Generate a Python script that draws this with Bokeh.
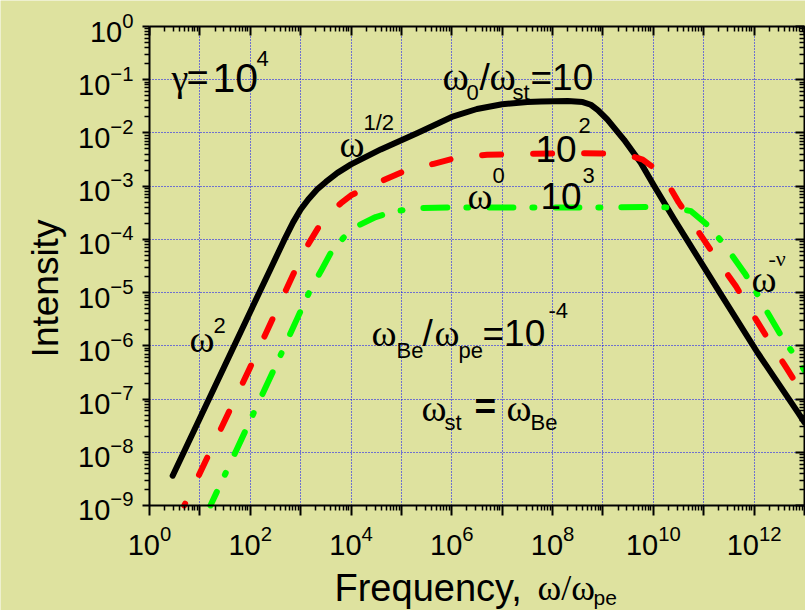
import numpy as np
from bokeh.plotting import figure
from bokeh.models import FixedTicker, LogAxis, Label, Grid
from bokeh.embed import file_html
from bokeh.resources import INLINE

# ---------------- data (log10 values) ----------------
black_log_freq = [0.46, 1.0, 1.5, 2.0, 2.4, 2.67, 2.85, 3.0, 3.15, 3.33, 3.5, 3.73, 4.0, 4.59, 5.32,
                  6.0, 6.5, 7.0, 7.5, 7.77, 8.3, 8.6, 8.76, 8.9, 9.09, 9.42, 9.75, 10.0, 10.42,
                  11.28, 12.07, 12.87, 13.0]
black_log_int = [-8.44, -7.36, -6.36, -5.36, -4.56, -4.02, -3.68, -3.44, -3.25, -3.06, -2.92, -2.75,
                 -2.59, -2.31, -2.0, -1.7, -1.55, -1.46, -1.42, -1.41, -1.40, -1.42, -1.47, -1.57,
                 -1.75, -2.13, -2.56, -2.97, -3.63, -4.94, -6.13, -7.25, -7.44]

red_log_freq = [0.69, 0.96, 2.0, 2.93, 3.17, 3.35, 3.56, 3.8, 4.02, 4.59, 5.05, 5.64, 6.12, 6.7,
                7.5, 8.5, 9.26, 9.55, 9.79, 10.0, 10.26, 10.5, 10.8, 11.31, 11.64, 11.97, 12.27,
                12.64, 13.0]
red_log_int = [-9.0, -8.47, -6.4, -4.5, -4.06, -3.78, -3.53, -3.32, -3.16, -2.91, -2.72, -2.58,
               -2.46, -2.41, -2.39, -2.38, -2.39, -2.43, -2.5, -2.65, -2.91, -3.3, -3.72, -4.44,
               -4.88, -5.4, -5.86, -6.41, -6.95]

green_log_freq = [1.21, 1.72, 2.61, 2.94, 3.2, 3.4, 3.6, 3.85, 4.12, 4.49, 4.89, 5.38, 6.0, 7.0,
                  8.0, 9.0, 10.16, 10.5, 10.75, 11.1, 11.41, 11.81, 12.0, 12.27, 12.6, 12.84, 13.0]
green_log_int = [-9.0, -7.97, -6.16, -5.47, -4.93, -4.6, -4.25, -3.97, -3.75, -3.58, -3.47, -3.41,
                 -3.40, -3.40, -3.40, -3.40, -3.39, -3.42, -3.47, -3.75, -4.1, -4.63, -4.92, -5.38,
                 -5.91, -6.22, -6.46]

x_major_exp = list(range(0, 14))
x_label_exp = [0, 2, 4, 6, 8, 10, 12]
y_major_exp = list(range(-9, 1))

BG = "#dee29f"
SANS = "Liberation Sans"
SERIF = "Liberation Serif"

W, H = 805, 610
# pixel placement of the plot box: 10^0 on x at px 149, 50.38 px per decade;
# 10^0 on y at px 26, 53.22 px per decade
X0, DX, Y0, DY = 149.0, 50.38, 26.0, 53.22

def px2x(px):
    return 10 ** ((px - X0) / DX)

def py2y(py):
    return 10 ** (-(py - Y0) / DY)

XMIN, XMAX = 10.0 ** x_major_exp[0], 10.0 ** x_major_exp[-1]
YMIN, YMAX = 10.0 ** y_major_exp[0], 10.0 ** y_major_exp[-1]

# ---------------- figure (frame = whole canvas, axes at fixed locations) ----------------
p = figure(width=W, height=H, x_axis_type="log", y_axis_type="log",
           x_range=(px2x(0), px2x(W)), y_range=(py2y(H), py2y(0)),
           output_backend="svg", toolbar_location=None,
           min_border_left=0, min_border_right=0, min_border_top=0, min_border_bottom=0)
p.background_fill_color = BG
p.border_fill_color = BG
p.outline_line_color = None

x_major = [10.0 ** k for k in x_major_exp]
x_minor = [m * 10.0 ** k for k in x_major_exp[:-1] for m in range(2, 10)]
y_major = [10.0 ** k for k in y_major_exp]
y_minor = [m * 10.0 ** k for k in y_major_exp[:-1] for m in range(2, 10)]
xt = FixedTicker(ticks=x_major, minor_ticks=x_minor)
yt = FixedTicker(ticks=y_major, minor_ticks=y_minor)

xax = p.xaxis[0]
yax = p.yaxis[0]
xax.ticker = xt
yax.ticker = yt
xax.fixed_location = YMIN
yax.fixed_location = XMIN
xax.bounds = (XMIN, XMAX)
yax.bounds = (YMIN, YMAX)
xax.major_label_overrides = {10.0 ** k: " " for k in x_major_exp if k not in x_label_exp}

for ax, out_len, stand in ((xax, 10, 10), (yax, 7, 9)):
    ax.axis_line_width = 2
    ax.major_tick_line_width = 2
    ax.minor_tick_line_width = 1.5
    ax.major_tick_in = 0
    ax.major_tick_out = out_len
    ax.minor_tick_in = 0
    ax.minor_tick_out = 5
    ax.major_label_text_font = SANS
    ax.major_label_text_font_size = "29px"
    ax.major_label_text_color = "black"
    ax.major_label_standoff = stand

top = LogAxis(ticker=xt, fixed_location=YMAX, bounds=(XMIN, XMAX))
right = LogAxis(ticker=yt, fixed_location=XMAX, bounds=(YMIN, YMAX))
for ax in (top, right):
    ax.axis_line_width = 2
    ax.major_tick_line_width = 2
    ax.minor_tick_line_width = 1.5
    ax.major_tick_in = 9
    ax.major_tick_out = 0
    ax.minor_tick_in = 5
    ax.minor_tick_out = 0
    ax.major_label_text_font_size = "1px"
    ax.major_label_text_alpha = 0
    ax.major_label_standoff = 0
p.add_layout(top, "above")
p.add_layout(right, "right")

GRID_COLOR, GRID_DASH = "#0000ff", "1 2"
if "cross_bounds" in Grid.properties():
    p.xgrid[0].cross_bounds = (YMIN, YMAX)
    p.ygrid[0].cross_bounds = (XMIN, XMAX)
    for g in (p.xgrid[0], p.ygrid[0]):
        g.grid_line_color = GRID_COLOR
        g.grid_line_width = 1
        g.grid_line_dash = GRID_DASH
        g.grid_line_alpha = 1.0
else:
    p.xgrid.visible = False
    p.ygrid.visible = False
    p.segment(x0=x_major, y0=[YMIN] * len(x_major), x1=x_major, y1=[YMAX] * len(x_major),
              line_color=GRID_COLOR, line_width=1, line_dash=GRID_DASH, line_alpha=1.0)
    p.segment(x0=[XMIN] * len(y_major), y0=y_major, x1=[XMAX] * len(y_major), y1=y_major,
              line_color=GRID_COLOR, line_width=1, line_dash=GRID_DASH, line_alpha=1.0)

# ---------------- curves ----------------
def tolin(a):
    return [10.0 ** v for v in a]

p.line(tolin(black_log_freq), tolin(black_log_int), line_color="black", line_width=6,
       line_cap="round", line_join="round")
p.line(tolin(red_log_freq), tolin(red_log_int), line_color="#ff0000", line_width=6,
       line_dash="19 32", line_dash_offset=17, line_cap="round", line_join="round")
p.line(tolin(green_log_freq), tolin(green_log_int), line_color="#00ff00", line_width=6,
       line_dash="24 19 2 21", line_dash_offset=9, line_cap="round", line_join="round")

# ---------------- text ----------------
def lab(px, py, text, size, font=SANS, **kw):
    p.add_layout(Label(x=px2x(px), y=py2y(py), text=text, text_font=font,
                       text_font_size=f"{size}px", text_color="black",
                       text_baseline="alphabetic", text_align="left", **kw))

# gamma = 10^4
lab(171, 77, "γ", 38, SERIF)
lab(186, 77, "=", 38)
lab(212, 77, "10", 41)
lab(256, 58, "4", 22)
# omega_0 / omega_st = 10
lab(442, 76, "ω", 40, SERIF)
lab(466, 92, "0", 22)
lab(479, 77, "/", 37)
lab(489, 76, "ω", 40, SERIF)
lab(512, 92, "st", 22)
lab(530, 77, "=10", 37)
# omega^1/2
lab(339, 143, "ω", 38, SERIF)
lab(363, 122, "1/2", 22)
# 10^2
lab(535, 148, "10", 37)
lab(578, 125, "2", 22)
# omega^0
lab(467, 195, "ω", 38, SERIF)
lab(492, 175, "0", 22)
# 10^3
lab(540, 195, "10", 37)
lab(582, 175, "3", 22)
# omega^-nu
lab(751, 278, "ω", 38, SERIF)
lab(768, 258, "-ν", 22, SERIF)
# omega^2
lab(189, 338, "ω", 38, SERIF)
lab(213, 325, "2", 22)
# omega_Be / omega_pe = 10^-4
lab(371, 332, "ω", 38, SERIF)
lab(396, 350, "Be", 22)
lab(422, 333, "/", 37)
lab(434, 332, "ω", 38, SERIF)
lab(458, 350, "pe", 22)
lab(482, 333, "=10", 37)
lab(548, 310, "-4", 22)
# omega_st = omega_Be
lab(421, 407, "ω", 38, SERIF)
lab(444, 422, "st", 22)
lab(474, 406, "=", 37, text_font_style="bold")
lab(506, 407, "ω", 38, SERIF)
lab(530, 422, "Be", 22)

# axis titles
lab(334, 587, "Frequency,", 38)
lab(537, 587, "ω/ω", 36, SERIF)
lab(593, 597, "pe", 21)
p.add_layout(Label(x=px2x(45), y=py2y(288), text="Intensity", text_font=SANS,
                   text_font_size="37px", text_color="black", angle=90, angle_units="deg",
                   text_align="center", text_baseline="alphabetic"))

open("out.html", "w").write(file_html(p, INLINE))
